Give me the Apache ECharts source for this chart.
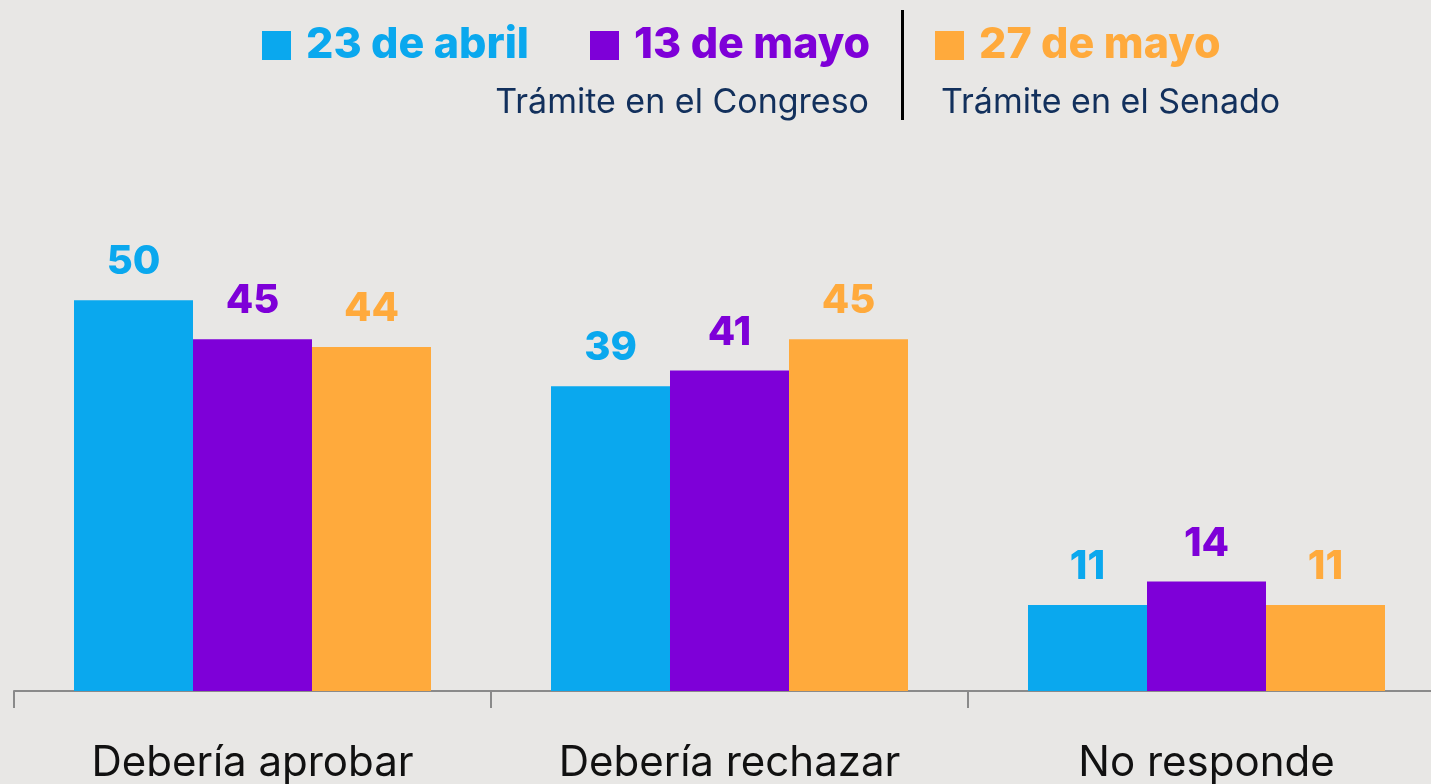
<!DOCTYPE html>
<html>
<head>
<meta charset="utf-8">
<script src="https://cdn.jsdelivr.net/npm/echarts@6/dist/echarts.min.js"></script>
<style>
  html, body { margin: 0; padding: 0; background: #e8e7e5; }
  #chart { width: 1431px; height: 784px; }
</style>
</head>
<body>
<div id="chart"></div>
<script>
// datos
var categories = ['Debería aprobar', 'Debería rechazar', 'No responde'];
var seriesNames = ['23 de abril', '13 de mayo', '27 de mayo'];
var abril23 = [50, 39, 11];
var mayo13 = [45, 41, 14];
var mayo27 = [44, 45, 11];
var colors = ['#0aa8ee', '#7e00d8', '#ffaa3c'];

var mychart = echarts.init(document.getElementById('chart'));

function barSeries(name, data, color) {
  return {
    name: name,
    type: 'bar',
    data: data,
    barWidth: 119,
    barGap: '0%',
    itemStyle: { color: color },
    label: {
      show: true,
      position: 'top',
      distance: 18,
      color: color,
      fontFamily: 'Inter',
      fontWeight: 800,
      fontSize: 40
    }
  };
}

function legendAt(left, i) {
  return {
    left: left,
    top: 19,
    icon: 'rect',
    itemWidth: 29,
    itemHeight: 29,
    selectedMode: false,
    data: [{ name: seriesNames[i], textStyle: { color: colors[i] } }],
    textStyle: {
      fontFamily: 'Inter',
      fontWeight: 800,
      fontSize: 43,
      padding: [0, 0, 0, 10]
    }
  };
}

var option = {
  backgroundColor: '#e8e7e5',
  animation: false,
  legend: [legendAt(257, 0), legendAt(585, 1), legendAt(930, 2)],
  grid: { left: 14, width: 1431, top: 222, bottom: 93, outerBoundsMode: 'none', containLabel: false },
  xAxis: {
    type: 'category',
    data: categories,
    axisLine: { lineStyle: { color: '#8a8a8a', width: 2 } },
    axisTick: { show: true, length: 17, lineStyle: { color: '#8a8a8a', width: 2 } },
    axisLabel: {
      margin: 51,
      color: '#111111',
      fontFamily: 'Inter',
      fontSize: 42
    }
  },
  yAxis: {
    type: 'value',
    min: 0,
    max: 60,
    show: false,
    splitLine: { show: false }
  },
  graphic: [
    {
      type: 'text',
      right: 1431 - 869,
      top: 86,
      style: {
        text: 'Trámite en el Congreso',
        fill: '#12305c',
        font: '34px Inter'
      }
    },
    {
      type: 'text',
      left: 941,
      top: 86,
      style: {
        text: 'Trámite en el Senado',
        fill: '#12305c',
        font: '34px Inter'
      }
    },
    {
      type: 'rect',
      left: 901,
      top: 10,
      shape: { width: 3, height: 110 },
      style: { fill: '#000000' }
    }
  ],
  series: [
    barSeries(seriesNames[0], abril23, colors[0]),
    barSeries(seriesNames[1], mayo13, colors[1]),
    barSeries(seriesNames[2], mayo27, colors[2])
  ]
};

mychart.setOption(option);
</script>
</body>
</html>
